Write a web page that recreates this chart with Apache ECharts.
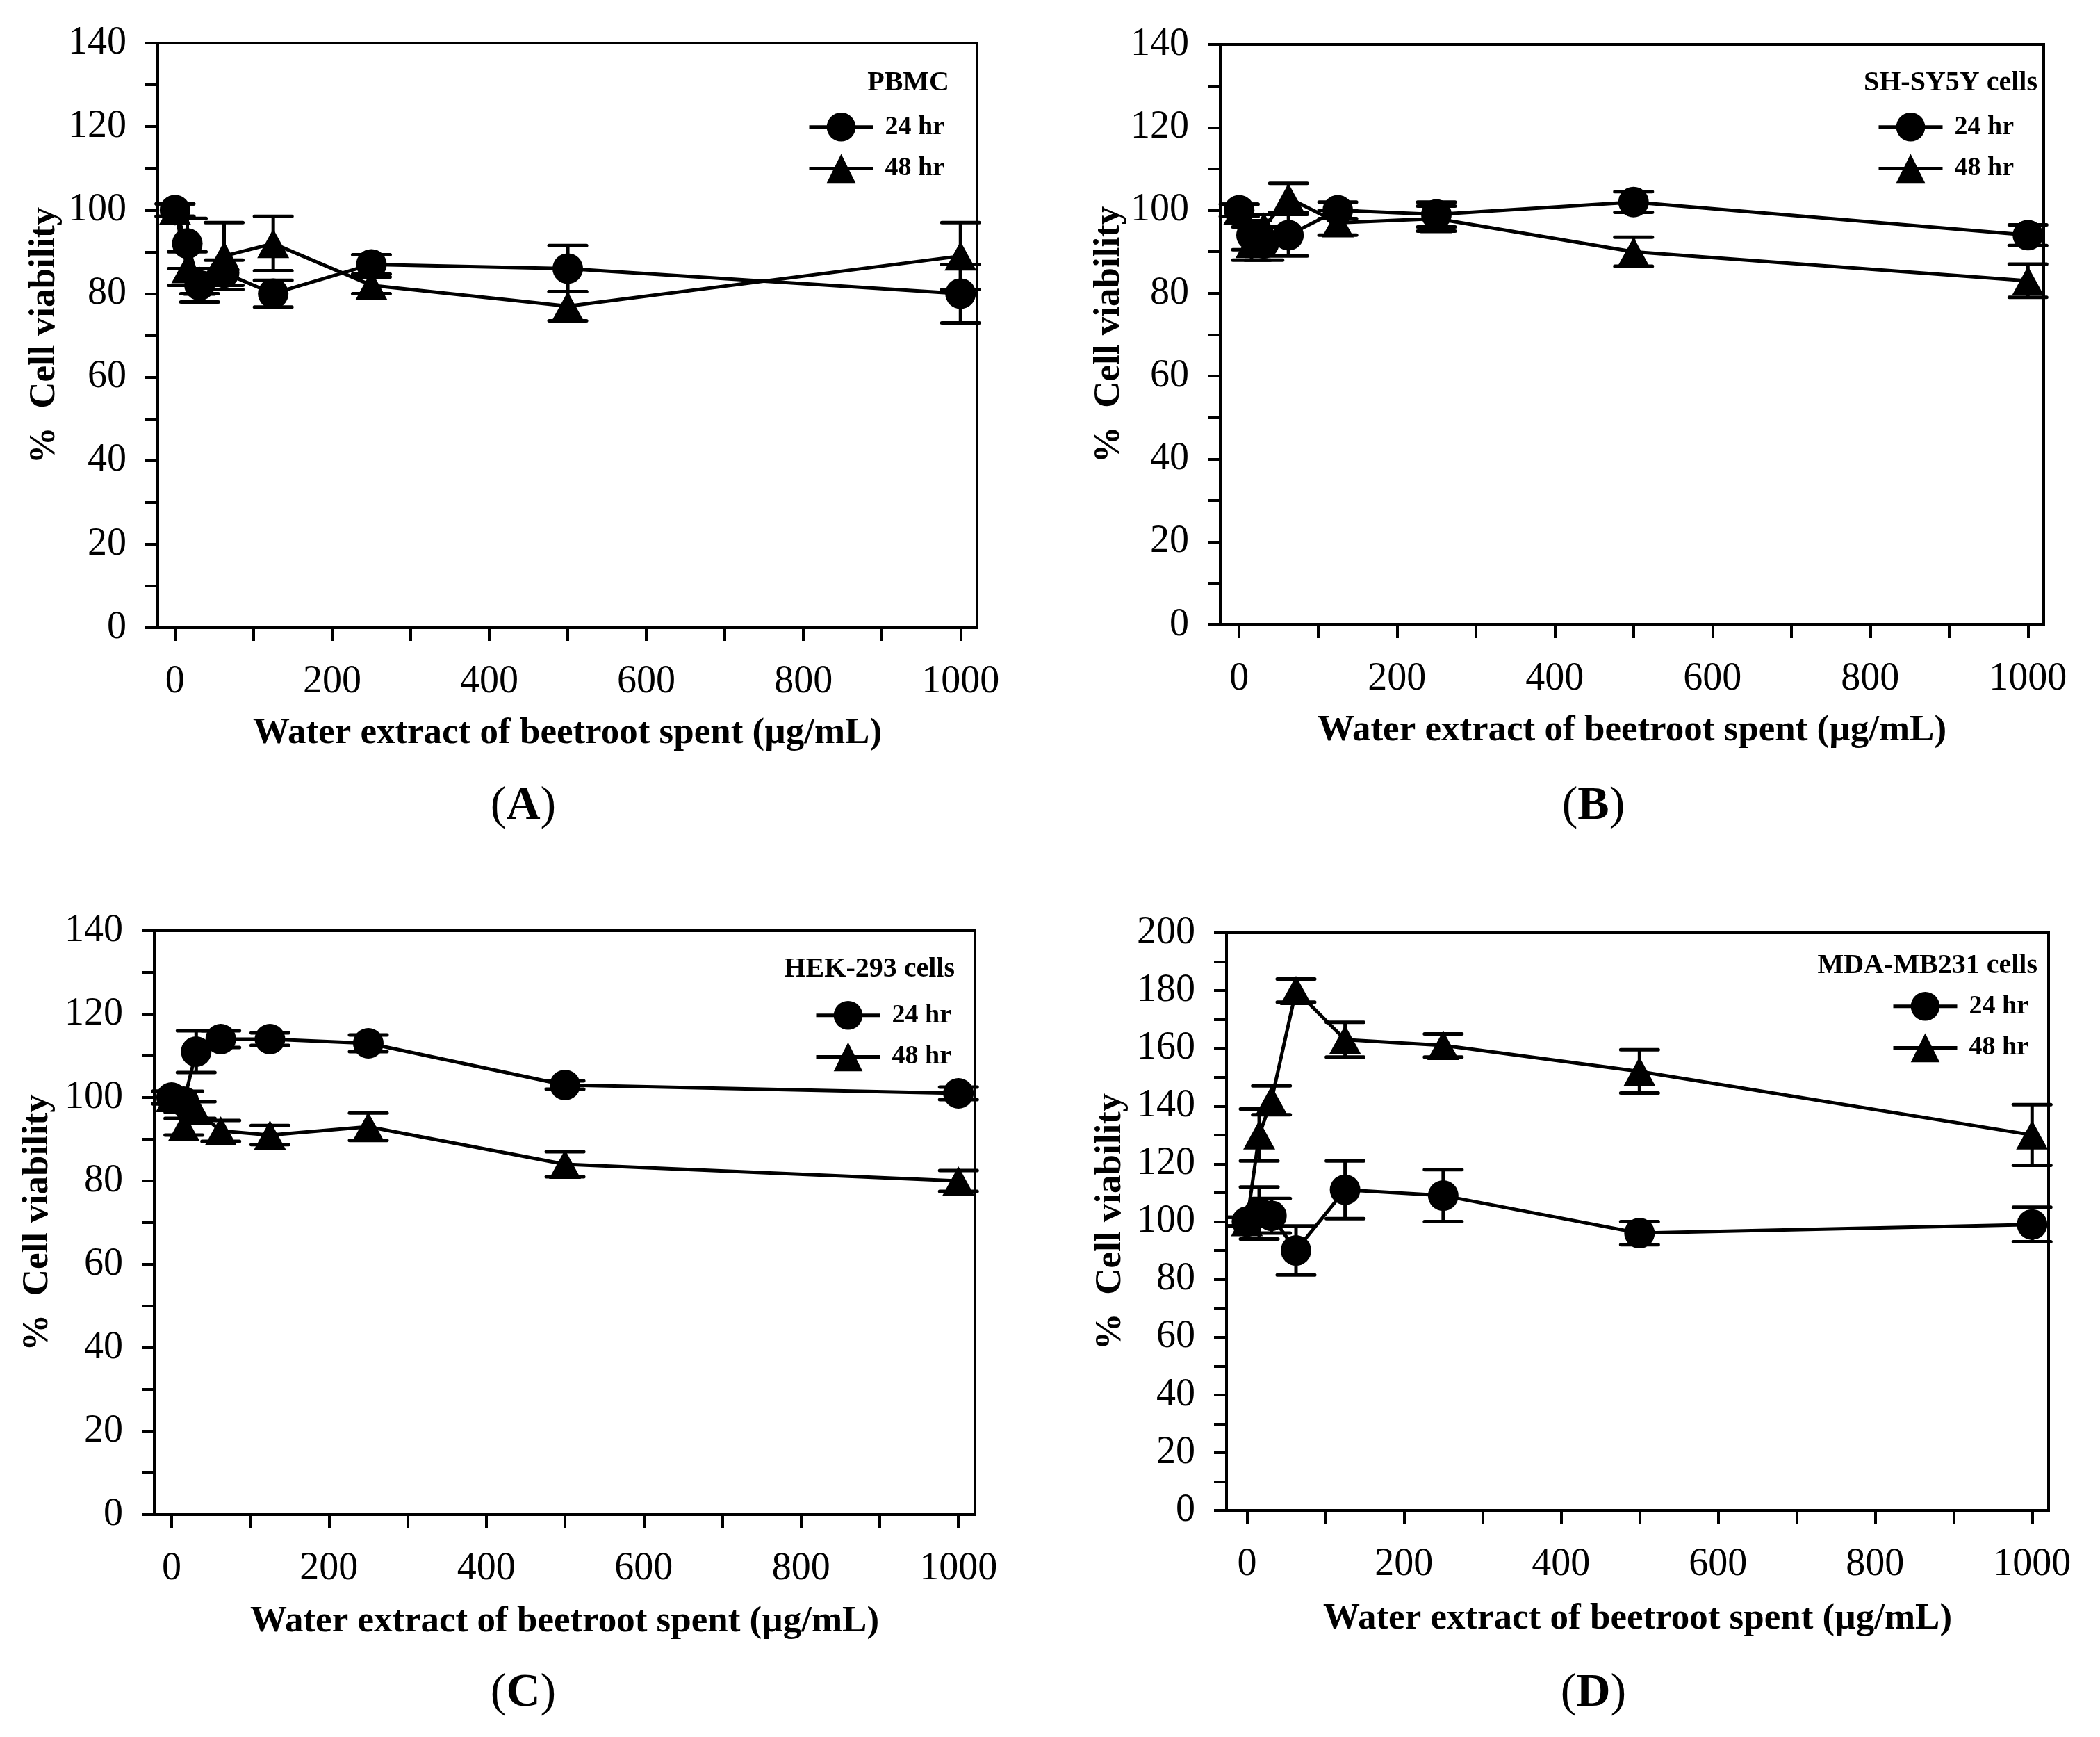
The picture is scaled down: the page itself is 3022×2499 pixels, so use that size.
<!DOCTYPE html>
<html>
<head>
<meta charset="utf-8">
<script src="https://cdn.jsdelivr.net/npm/echarts@6/dist/echarts.min.js"></script>
<style>
html,body{margin:0;padding:0;background:#fff;}
#c{width:3022px;height:2499px;}
</style>
</head>
<body>
<div id="c"></div>
<script>
// ---- data ----
const conc = [0, 15.625, 31.25, 62.5, 125, 250, 500, 1000];
const xTickValues = [0, 100, 200, 300, 400, 500, 600, 700, 800, 900, 1000];
const xLabelValues = [0, 200, 400, 600, 800, 1000];
const seriesNames = ['24 hr', '48 hr'];
const panelTitles = ['PBMC', 'SH-SY5Y cells', 'HEK-293 cells', 'MDA-MB231 cells'];
const panelLetters = ['A', 'B', 'C', 'D'];
const yMax = [140, 140, 140, 200];

const pbmc24 = [100, 92, 82, 85, 80, 87, 86, 80];
const pbmc24Err = [1.5, 6, 4, 3, 3.2, 2.3, 5.5, 7];
const pbmc48 = [100, 86, 83, 89, 92, 82, 77, 89];
const pbmc48Err = [1.5, 4, 3, 8, 6.5, 2, 3.5, 8];

const sh24 = [100, 94, 92, 94, 100, 99, 102, 94];
const sh24Err = [1.5, 3.5, 4, 5, 2, 3, 2.5, 2.5];
const sh48 = [100, 92, 96, 103, 97, 98, 90, 83];
const sh48Err = [1.5, 4, 3, 3.5, 3, 3, 3.5, 4];

const hek24 = [100, 99, 111, 114, 114, 113, 103, 101];
const hek24Err = [1.5, 2.5, 5, 2, 1.5, 2, 1, 1.5];
const hek48 = [100, 93, 97, 92, 91, 93, 84, 80];
const hek48Err = [1.5, 2, 2, 2.5, 2.3, 3.3, 3, 2.5];

const mda24 = [100, 103, 102, 90, 111, 109, 96, 99];
const mda24Err = [1.5, 9, 6, 8.5, 10, 9, 4, 6];
const mda48 = [100, 130, 142, 180, 163, 161, 152, 130];
const mda48Err = [1.5, 9, 5, 4, 6, 4, 7.5, 10.5];

const panelData = [
  [[pbmc24, pbmc24Err], [pbmc48, pbmc48Err]],
  [[sh24, sh24Err], [sh48, sh48Err]],
  [[hek24, hek24Err], [hek48, hek48Err]],
  [[mda24, mda24Err], [mda48, mda48Err]]
];

// ---- layout ----
const grids = [
  {left: 227, top: 62, width: 1179, height: 841},
  {left: 1756, top: 64, width: 1185, height: 835},
  {left: 222, top: 1339, width: 1181, height: 840},
  {left: 1765, top: 1342, width: 1183, height: 831}
];
const xMin = [-22, -24, -22, -26];
const xMax = [1021, 1020, 1021, 1021];
const yNameGap = [136, 127, 141, 140];
const xNameGap = [126, 126, 128, 130];
const titlePos = [[1366, 120], [2932, 120], [1374, 1395], [2932, 1390]];
const legendPos = [[1658, 157], [119, 157], [1648, 1435], [98, 1422]];
const letterPos = [[753, 1160], [2293, 1160], [753, 2436], [2293, 2436]];

const FONT = 'Liberation Serif';
const symbols = ['circle', 'triangle'];
const symbolSizes = [44, [46, 42]];

const option = {
  backgroundColor: '#fff',
  animation: false,
  grid: [], xAxis: [], yAxis: [], series: [], legend: [], graphic: []
};

function errRender(params, api) {
  const x = api.value(0), y = api.value(1), e = api.value(2);
  const hi = api.coord([x, y + e]);
  const lo = api.coord([x, y - e]);
  const hw = 27;
  const st = {stroke: '#000', lineWidth: 5};
  return {
    type: 'group',
    children: [
      {type: 'line', shape: {x1: hi[0], y1: hi[1], x2: lo[0], y2: lo[1]}, style: st},
      {type: 'line', shape: {x1: hi[0] - hw, y1: hi[1], x2: hi[0] + hw, y2: hi[1]}, style: Object.assign({lineCap: 'round'}, st)},
      {type: 'line', shape: {x1: lo[0] - hw, y1: lo[1], x2: lo[0] + hw, y2: lo[1]}, style: Object.assign({lineCap: 'round'}, st)}
    ]
  };
}

for (let p = 0; p < 4; p++) {
  const g = grids[p];
  option.grid.push({
    left: g.left, top: g.top, width: g.width, height: g.height,
    show: true, borderColor: '#000', borderWidth: 4, backgroundColor: 'transparent'
  });
  option.xAxis.push({
    type: 'value', gridIndex: p, min: xMin[p], max: xMax[p],
    name: 'Water extract of beetroot spent (\u00b5g/mL)',
    nameLocation: 'middle', nameGap: xNameGap[p],
    nameTextStyle: {fontFamily: FONT, fontWeight: 'bold', fontSize: 53, color: '#000'},
    axisLine: {onZero: false, lineStyle: {color: '#000', width: 4}},
    axisTick: {show: true, inside: false, length: 19, lineStyle: {color: '#000', width: 4}, customValues: xTickValues},
    axisLabel: {fontFamily: FONT, fontSize: 56, color: '#000', margin: 50, customValues: xLabelValues,
      formatter: v => String(v)},
    splitLine: {show: false}
  });
  option.yAxis.push({
    type: 'value', gridIndex: p, min: 0, max: yMax[p], interval: 20,
    name: '%  Cell viability',
    nameLocation: 'middle', nameGap: yNameGap[p], nameRotate: 90,
    nameTextStyle: {fontFamily: FONT, fontWeight: 'bold', fontSize: 53, color: '#000'},
    axisLine: {show: true, onZero: false, lineStyle: {color: '#000', width: 4}},
    axisTick: {show: true, inside: false, length: 18, lineStyle: {color: '#000', width: 4}},
    minorTick: {show: true, splitNumber: 2, length: 18, lineStyle: {color: '#000', width: 4}},
    axisLabel: {fontFamily: FONT, fontSize: 56, color: '#000', margin: 45, formatter: v => String(v)},
    splitLine: {show: false}
  });
  for (let s = 0; s < 2; s++) {
    const vals = panelData[p][s][0];
    const errs = panelData[p][s][1];
    option.series.push({
      type: 'line', name: seriesNames[s], xAxisIndex: p, yAxisIndex: p,
      symbol: symbols[s], symbolSize: symbolSizes[s], clip: false, z: 3,
      lineStyle: {color: '#000', width: 5},
      itemStyle: {color: '#000'},
      data: conc.map((c, i) => [c, vals[i]])
    });
    option.series.push({
      type: 'custom', name: seriesNames[s] + ' SE', xAxisIndex: p, yAxisIndex: p,
      renderItem: errRender, clip: false, z: 2,
      itemStyle: {color: '#000'},
      encode: {x: 0, y: 1},
      data: conc.map((c, i) => [c, vals[i], errs[i]])
    });
  }
  option.legend.push({
    orient: 'vertical', right: legendPos[p][0], top: legendPos[p][1],
    itemWidth: 92, itemHeight: 52, itemGap: 18,
    data: seriesNames,
    lineStyle: {width: 5, color: '#000'},
    itemStyle: {color: '#000'},
    textStyle: {fontFamily: FONT, fontWeight: 'bold', fontSize: 38, color: '#000', padding: [0, 0, 0, 12]},
    selectedMode: false
  });
  option.graphic.push({
    type: 'text', x: titlePos[p][0], y: titlePos[p][1],
    style: {text: panelTitles[p], fontFamily: FONT, fontWeight: 'bold', fontSize: 40, fill: '#000', align: 'right', verticalAlign: 'middle'}
  });
  option.graphic.push({
    type: 'text', x: letterPos[p][0], y: letterPos[p][1],
    style: {
      text: '{p|(}{b|' + panelLetters[p] + '}{p|)}',
      align: 'center', verticalAlign: 'middle', fill: '#000',
      rich: {
        p: {fontFamily: FONT, fontSize: 68, fill: '#000'},
        b: {fontFamily: FONT, fontSize: 68, fontWeight: 'bold', fill: '#000'}
      }
    }
  });
}

const chart = echarts.init(document.getElementById('c'), null, {renderer: 'canvas'});
chart.setOption(option);
</script>
</body>
</html>
